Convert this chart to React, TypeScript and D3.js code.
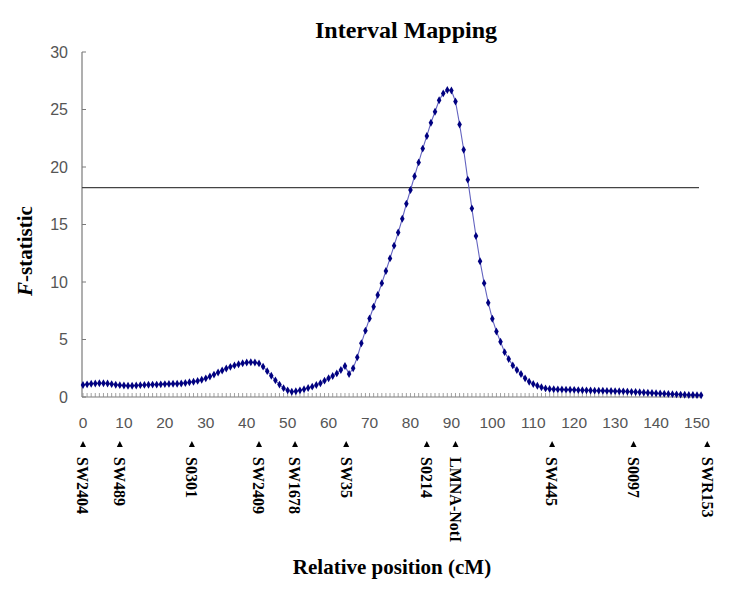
import React from "react";
import * as d3 from "d3";

const positions: number[] = d3.range(0, 152);
const fStat: number[] = [
  1.04, 1.1, 1.15, 1.18, 1.2, 1.2, 1.17, 1.12, 1.07, 1.03,
  1.0, 0.98, 0.98, 1.0, 1.03, 1.05, 1.07, 1.08, 1.08, 1.1,
  1.12, 1.14, 1.15, 1.15, 1.17, 1.22, 1.28, 1.33, 1.4, 1.5,
  1.62, 1.78, 1.95, 2.13, 2.3, 2.48, 2.62, 2.75, 2.85, 2.93,
  3.0, 3.02, 3.0, 2.92, 2.64, 2.25, 1.85, 1.45, 1.08, 0.77,
  0.58, 0.46, 0.5, 0.58, 0.68, 0.78, 0.9, 1.04, 1.2, 1.42,
  1.63, 1.83, 2.05, 2.35, 2.7, 2.0, 2.5, 3.45, 4.67, 5.77,
  6.83, 7.85, 8.87, 9.9, 10.96, 12.05, 13.16, 14.3, 15.5, 16.8,
  18.0, 19.2, 20.4, 21.6, 22.7, 23.85, 24.8, 25.8, 26.4, 26.7,
  26.65, 25.7, 23.7, 21.5, 18.9, 16.4, 14.0, 11.8, 9.9, 8.2,
  6.8, 5.7, 4.8, 3.9, 3.3, 2.75, 2.35, 2.0, 1.62, 1.33,
  1.13, 0.98, 0.85, 0.75, 0.7, 0.67, 0.66, 0.65, 0.64, 0.63,
  0.62, 0.6, 0.59, 0.58, 0.57, 0.55, 0.55, 0.54, 0.53, 0.52,
  0.51, 0.5, 0.49, 0.47, 0.45, 0.43, 0.41, 0.39, 0.37, 0.35,
  0.33, 0.31, 0.29, 0.27, 0.25, 0.23, 0.21, 0.2, 0.18, 0.17,
  0.16, 0.15,
];
const threshold = 18.2;
const yTicks: number[] = [0, 5, 10, 15, 20, 25, 30];
const xTicks: number[] = d3.range(0, 151, 10);
const markerNames: string[] = [
  "SW2404", "SW489", "S0301", "SW2409", "SW1678", "SW35",
  "S0214", "LMNA-NotI", "SW445", "S0097", "SWR153",
];
const markerPos: number[] = [0, 9, 26.6, 43, 51.8, 64.3, 84, 91, 114.6, 134.5, 152.5];

export default function App() {
  const W = 738, H = 590;
  const x = d3.scaleLinear().domain([0, 150]).range([83, 697]);
  const y = d3.scaleLinear().domain([0, 30]).range([397, 52]);
  const line = d3.line<number>().x((_, i) => x(positions[i])).y((d) => y(d));
  const diamond = d3.symbol().type(d3.symbolDiamond).size(18)() as string;
  const serif = "'Liberation Serif', 'Times New Roman', serif";
  const sans = "'Liberation Sans', Arial, sans-serif";
  const minorTicks = d3.range(0, 152);
  return (
    <svg width={W} height={H} style={{ position: "absolute", left: 0, top: 0, background: "#fff" }}>
      <text x={406} y={38} textAnchor="middle" fontFamily={serif} fontWeight="bold" fontSize={24} fill="#000">
        Interval Mapping
      </text>
      {/* y axis */}
      <line x1={82} x2={82} y1={y(30)} y2={y(0)} stroke="#7a7a7a" strokeWidth={1.2} />
      {yTicks.map((t) => (
        <g key={t}>
          <line x1={82} x2={86} y1={y(t)} y2={y(t)} stroke="#7a7a7a" />
          <text x={68} y={y(t)} dy="0.36em" textAnchor="end" fontFamily={sans} fontSize={16} fill="#555">
            {t}
          </text>
        </g>
      ))}
      {/* x axis */}
      <line x1={82} x2={701} y1={y(0)} y2={y(0)} stroke="#7a7a7a" strokeWidth={1.2} />
      {minorTicks.map((t) => (
        <line key={t} x1={x(t)} x2={x(t)} y1={y(0)} y2={y(0) - 4} stroke="#8a8a8a" strokeWidth={0.8} />
      ))}
      {xTicks.map((t) => (
        <text key={t} x={x(t)} y={428} textAnchor="middle" fontFamily={sans} fontSize={15.5} fill="#555">
          {t}
        </text>
      ))}
      {/* threshold */}
      <line x1={82} x2={699} y1={y(threshold)} y2={y(threshold)} stroke="#444" strokeWidth={1.3} />
      {/* curve */}
      <path d={line(fStat) || ""} fill="none" stroke="#6464c0" strokeWidth={1.1} />
      {fStat.map((v, i) => (
        <path key={i} d={diamond} transform={`translate(${x(positions[i])},${y(v)})`} fill="#000080" />
      ))}
      {/* markers */}
      {markerNames.map((m, i) => {
        const mx = x(markerPos[i]);
        return (
          <g key={m}>
            <path d={`M${mx - 3},447 L${mx + 3},447 L${mx},441 Z`} fill="#000" />
            <text
              transform={`translate(${mx},457) rotate(90)`}
              dy="0.35em"
              fontFamily={serif}
              fontWeight="bold"
              fontSize={16}
              fill="#000"
            >
              {m}
            </text>
          </g>
        );
      })}
      {/* axis titles */}
      <text
        transform="translate(32,251) rotate(-90)"
        textAnchor="middle"
        fontFamily={serif}
        fontWeight="bold"
        fontSize={21}
        fill="#000"
      >
        <tspan fontStyle="italic">F</tspan>-statistic
      </text>
      <text x={392} y={574} textAnchor="middle" fontFamily={serif} fontWeight="bold" fontSize={21} fill="#000">
        Relative position (cM)
      </text>
    </svg>
  );
}
